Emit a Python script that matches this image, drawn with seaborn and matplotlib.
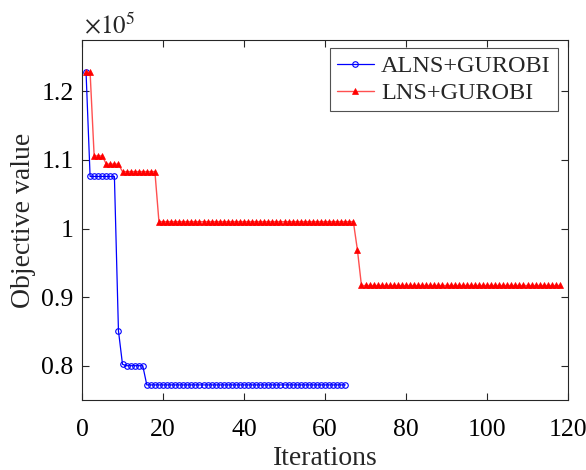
import numpy as np
import pandas as pd
import matplotlib
matplotlib.use('Agg')
import matplotlib.pyplot as plt
import seaborn as sns
from matplotlib.ticker import FuncFormatter

# objective values (raw units, axis shows x10^5)
alns_iter = list(range(1, 66))
alns_obj = [122800] + [107600] * 7 + [85100, 80200] + [80000] * 5 + [77200] * 50

lns_iter = list(range(1, 119))
lns_obj = ([122800] * 2 + [110600] * 3 + [109400] * 4 + [108300] * 9
           + [101000] * 49 + [96900] + [91700] * 50)

df_alns = pd.DataFrame({'Iterations': alns_iter, 'obj': np.array(alns_obj) / 1e5})
df_lns = pd.DataFrame({'Iterations': lns_iter, 'obj': np.array(lns_obj) / 1e5})

sns.set_theme(style='white')
plt.rcParams['font.family'] = ['Liberation Serif', 'DejaVu Serif']
plt.rcParams['mathtext.fontset'] = 'stix'

fig = plt.figure(figsize=(5.86, 4.70), dpi=100)
ax = fig.add_axes([82 / 586, 1 - 400 / 470, (568 - 82) / 586, (400 - 40) / 470])

sns.lineplot(data=df_alns, x='Iterations', y='obj', ax=ax, color='blue', lw=0.9,
             marker='o', markersize=4, markerfacecolor='none', markeredgecolor='blue',
             markeredgewidth=0.8, label='ALNS+GUROBI')
sns.lineplot(data=df_lns, x='Iterations', y='obj', ax=ax, color='#ff5050', lw=1.0,
             marker='^', markersize=4.5, markerfacecolor='red', markeredgecolor='red',
             markeredgewidth=0.5, label='LNS+GUROBI')

ax.set_xlim(0, 120)
ax.set_ylim(0.75, 1.275)
ax.set_xticks(range(0, 121, 20))
ax.set_yticks([0.8, 0.9, 1.0, 1.1, 1.2])
ax.yaxis.set_major_formatter(FuncFormatter(lambda v, p: f'{v:g}'))
ax.tick_params(direction='in', length=5, width=0.8, colors='#262626', labelsize=18.5,
               top=True, right=True, bottom=True, left=True, labelcolor='black')
ax.tick_params(axis='x', pad=14)
ax.tick_params(axis='y', pad=6)
for s in ax.spines.values():
    s.set_color('#262626')
    s.set_linewidth(0.8)

ax.set_xlabel('Iterations', fontsize=20, labelpad=3)
ax.set_ylabel('Objective value', fontsize=20, labelpad=4)
ax.text(0.005, 1.005, r'$\times10^5$', transform=ax.transAxes, fontsize=18,
        ha='left', va='bottom')

leg = ax.legend(loc='upper right', fontsize=17.5, frameon=True, fancybox=False,
                borderpad=0.3, labelspacing=0.2, handlelength=1.5, handletextpad=0.3,
                borderaxespad=0, bbox_to_anchor=(0.979, 0.978))
leg.get_frame().set_edgecolor('#262626')
leg.get_frame().set_linewidth(0.8)

fig.savefig('out.png', dpi=100)
